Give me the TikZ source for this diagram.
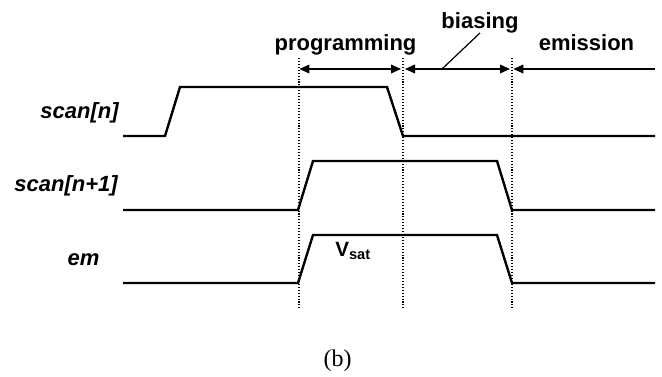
\documentclass[tikz,border=0pt]{standalone}
\usepackage{fontspec}
\setmainfont{Liberation Sans}
\newfontfamily\capserif{Liberation Serif}
\usetikzlibrary{arrows.meta}
\begin{document}
\begin{tikzpicture}[x=0.75pt,y=-0.75pt,
  sig/.style={line width=1.8pt, line join=miter},
  guide/.style={line width=0.8pt, dash pattern=on 0.8pt off 1.4pt},
  lbl/.style={font=\fontsize{16.5}{18}\selectfont\bfseries\itshape, inner sep=0pt},
  phase/.style={font=\fontsize{16.5}{18}\selectfont\bfseries, inner sep=0pt},
  tip/.tip={Triangle[length=7.5pt,width=6.5pt]},
  dim/.style={line width=1.1pt, tip-tip},
  dimone/.style={line width=1.1pt, -tip},
  leader/.style={line width=0.9pt}
]
\useasboundingbox (0,0) rectangle (662,376);

% signal labels
\node[lbl, anchor=east] (ln)  at (119,112.5) {scan[n]};
\node[lbl, anchor=east] (ln1) at (118,186) {scan[n+1]};
\node[lbl] (lem) at (83.5,260) {em};

% phase labels
\node[phase, anchor=base] (prog) at (345.5,50) {programming};
\node[phase, anchor=base] (bias) at (480,28) {biasing};
\node[phase, anchor=base] (emis) at (586.5,50) {emission};

% guide lines
\coordinate (d1t) at (299,58);  \coordinate (d1b) at (299,309);
\coordinate (d2t) at (403,58);  \coordinate (d2b) at (403,309);
\coordinate (d3t) at (512,58);  \coordinate (d3b) at (512,309);
\draw[guide] (d1t) -- (d1b);
\draw[guide] (d2t) -- (d2b);
\draw[guide] (d3t) -- (d3b);

% phase arrows
\coordinate (pa) at (299,69);
\coordinate (pb) at (403,69);
\coordinate (ba) at (403,69);
\coordinate (bb) at (512,69);
\coordinate (ea) at (512,69);
\coordinate (eb) at (655,69);
\coordinate (lk) at (442,69);
\draw[dim, shorten <=0.3pt, shorten >=1.5pt] (pa) -- (pb);
\draw[dim, shorten <=1.5pt, shorten >=1.5pt] (ba) -- (bb);
\draw[dimone, shorten >=1pt] (eb) -- (ea);
\draw[leader] (lk) -- (bias.south);

% waveforms
\draw[sig] (123,136) -- (165,136) -- (180,87) -- (387,87) -- (403,136) -- (655,136);
\draw[sig] (123,210) -- (298,210) -- (313,161) -- (497,161) -- (512,210) -- (655,210);
\draw[sig] (123,283) -- (298,283) -- (313,235) -- (497,235) -- (512,283) -- (655,283);

% V_sat
\node[anchor=base west, inner sep=0pt, font=\fontsize{15.5}{17}\selectfont\bfseries] (vsat) at (335,256)
  {V\raisebox{-2.4pt}{\fontsize{11}{12}\selectfont sat}};

% caption
\node[font=\capserif\fontsize{18}{20}\selectfont, inner sep=0pt] (cap) at (337.5,360.5) {(b)};
\end{tikzpicture}
\end{document}
